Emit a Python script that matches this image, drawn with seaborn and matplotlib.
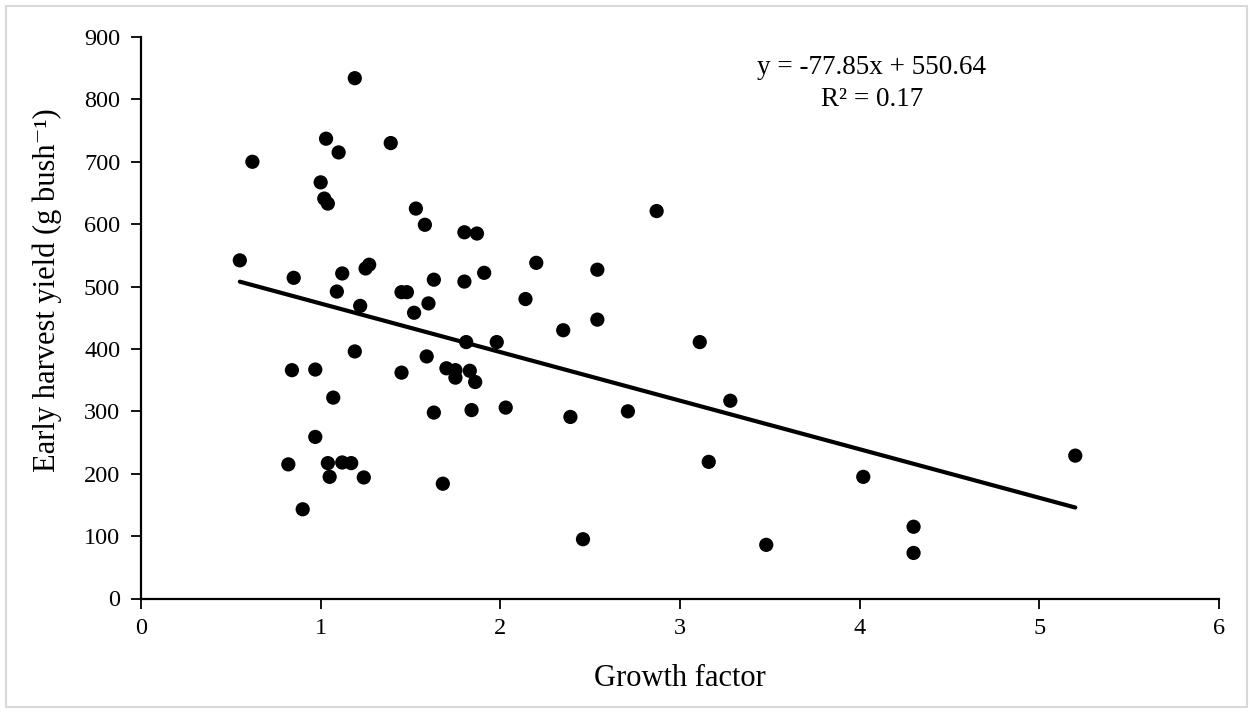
import matplotlib
matplotlib.use("Agg")
import matplotlib.pyplot as plt
import seaborn as sns
import numpy as np
import pandas as pd
from matplotlib.patches import Rectangle

growth_factor = [0.55, 0.62, 0.82, 0.84, 0.85, 0.90, 0.97, 0.97, 1.00, 1.02,
                 1.03, 1.04, 1.04, 1.05, 1.07, 1.09, 1.10, 1.12, 1.12, 1.17,
                 1.19, 1.19, 1.22, 1.24, 1.25, 1.27, 1.39, 1.45, 1.45, 1.48,
                 1.52, 1.53, 1.58, 1.59, 1.60, 1.63, 1.63, 1.68, 1.70, 1.75,
                 1.75, 1.80, 1.80, 1.81, 1.83, 1.84, 1.86, 1.87, 1.91, 1.98,
                 2.03, 2.14, 2.20, 2.35, 2.39, 2.46, 2.54, 2.54, 2.71, 2.87,
                 3.11, 3.16, 3.28, 3.48, 4.02, 4.30, 4.30, 5.20]
early_yield = [542, 700, 215, 366, 514, 143, 259, 367, 667, 641,
               737, 633, 217, 195, 322, 492, 715, 521, 218, 217,
               834, 396, 469, 194, 529, 535, 730, 362, 491, 491,
               458, 625, 599, 388, 473, 511, 298, 184, 369, 366,
               354, 587, 508, 411, 365, 302, 347, 585, 522, 411,
               306, 480, 538, 430, 291, 95, 447, 527, 300, 621,
               411, 219, 317, 86, 195, 115, 73, 229]

slope = -77.85
intercept = 550.64
r_squared = 0.17

x_ticks = [0, 1, 2, 3, 4, 5, 6]
y_ticks = [0, 100, 200, 300, 400, 500, 600, 700, 800, 900]

sns.set_theme(style="white")
serif = ["Liberation Serif", "DejaVu Serif"]
plt.rcParams["font.family"] = serif
plt.rcParams["text.color"] = "black"
plt.rcParams["axes.labelcolor"] = "black"

df = pd.DataFrame({"Growth factor": growth_factor, "Early harvest yield": early_yield})

fig = plt.figure(figsize=(12.53, 7.13), dpi=100)
ax = fig.add_axes([141/1253, 1 - 598.5/713, (1219 - 141)/1253, (598.5 - 37)/713])

sns.scatterplot(data=df, x="Growth factor", y="Early harvest yield", ax=ax,
                color="black", s=105, edgecolor="none", zorder=3)

fit_x = np.array([min(growth_factor), max(growth_factor)])
fit_df = pd.DataFrame({"x": fit_x, "y": slope * fit_x + intercept})
sns.lineplot(data=fit_df, x="x", y="y", ax=ax, color="black", linewidth=3, zorder=2)

ax.set_xlim(0, 6)
ax.set_ylim(0, 900)
ax.set_xticks(x_ticks)
ax.set_yticks(y_ticks)
ax.tick_params(axis="both", labelsize=17.5, colors="black", length=7, width=1.3,
               direction="out", bottom=True, left=True)
ax.tick_params(axis="x", pad=7)
ax.tick_params(axis="y", pad=8)
for lab in ax.get_xticklabels() + ax.get_yticklabels():
    lab.set_family(serif)

sns.despine(ax=ax)
for sp in ["left", "bottom"]:
    ax.spines[sp].set_color("black")
    ax.spines[sp].set_linewidth(1.6)

ax.set_xlabel("Growth factor", fontsize=22, family=serif, color="black")
ax.set_ylabel("Early harvest yield (g bush\u207b\u00b9)", fontsize=22, family=serif, color="black")
ax.xaxis.set_label_coords(0.5, (598.5 - 664) / 561.5)
ax.yaxis.set_label_coords((62 - 141) / 1078, 0.55)

ax.text(0.678, 0.945, f"y = {slope:.2f}x + {intercept:.2f}", transform=ax.transAxes,
        ha="center", va="center", fontsize=19.5, family=serif, color="black")
ax.text(0.678, 0.888, f"R\u00b2 = {r_squared:.2f}", transform=ax.transAxes,
        ha="center", va="center", fontsize=19.5, family=serif, color="black")

fig.patches.append(Rectangle((6/1253, 6/713), 1 - 12/1253, 1 - 12/713,
                             transform=fig.transFigure, fill=False,
                             edgecolor="#d9d9d9", linewidth=1.5))

fig.savefig("out.png", dpi=100)
